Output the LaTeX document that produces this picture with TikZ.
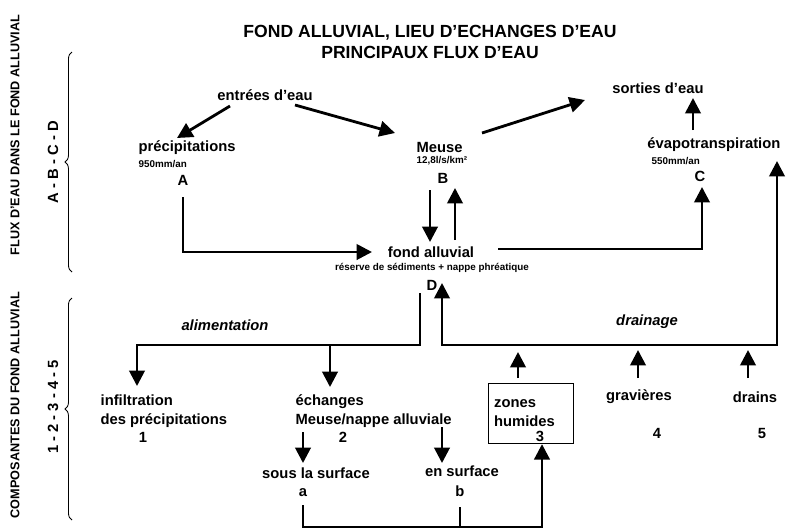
\documentclass[tikz,border=0pt]{standalone}
\usepackage{fontspec}
\setmainfont{Liberation Sans}
\usetikzlibrary{arrows.meta, decorations.pathreplacing}

\begin{document}
\begin{tikzpicture}[x=0.025cm, y=-0.025cm,
        ttl/.style={font=\bfseries\fontsize{12.5}{15}\selectfont, inner sep=1pt},
        txt/.style={font=\bfseries\fontsize{10.5}{13.5}\selectfont, inner sep=1pt},
        small/.style={font=\bfseries\fontsize{7}{8}\selectfont, inner sep=1pt},
        side/.style={font=\bfseries\fontsize{9}{11}\selectfont, inner sep=1pt, rotate=90},
        flow/.style={line width=2pt, -{Triangle[length=11pt,width=11pt]}},
        both/.style={line width=2pt, {Triangle[length=11pt,width=11pt]}-{Triangle[length=11pt,width=11pt]}},
        pipe/.style={line width=2pt},
        brc/.style={decorate, decoration={brace, amplitude=5pt}, line width=0.6pt}]
        \useasboundingbox (0,0) rectangle (788,529);

        \coordinate (e1) at (230,106);
        \coordinate (p1) at (177,138);
        \coordinate (e2) at (295,105);
        \coordinate (m1) at (395,133);
        \coordinate (m2) at (482,133);
        \coordinate (s1) at (585,100);
        \coordinate (v1) at (693,130);
        \coordinate (s2) at (693,98);
        \coordinate (a1) at (183,197);
        \coordinate (f1) at (372,252);
        \coordinate (b1) at (430,190);
        \coordinate (f2) at (430,242);
        \coordinate (f3) at (455,240);
        \coordinate (b2) at (455,188);
        \coordinate (f4) at (498,249);
        \coordinate (c1) at (702,187);
        \coordinate (d1) at (420,293);
        \coordinate (k1) at (137,345);
        \coordinate (i1) at (137,386);
        \coordinate (k2) at (330,345);
        \coordinate (x1) at (330,387);
        \coordinate (d2) at (442,283);
        \coordinate (q1) at (777,345);
        \coordinate (v2) at (777,161);
        \coordinate (z1) at (518,378);
        \coordinate (z2) at (518,352);
        \coordinate (g1) at (638,378);
        \coordinate (g2) at (638,350);
        \coordinate (r1) at (748,378);
        \coordinate (r2) at (748,350);
        \coordinate (h1) at (303,432);
        \coordinate (h2) at (303,463);
        \coordinate (n1) at (442,427);
        \coordinate (n2) at (442,463);
        \coordinate (a2) at (303,505);
        \coordinate (b3) at (460,507);
        \coordinate (w1) at (460,527);
        \coordinate (w2) at (542,527);

        \node[ttl] (T1) at (430,33) {FOND ALLUVIAL, LIEU D'ECHANGES D'EAU};
        \node[ttl] (T2) at (430,52) {PRINCIPAUX FLUX D'EAU};

        \node[side] (L1) at (15,135) {FLUX D'EAU DANS LE FOND ALLUVIAL};
        \node[side, font=\bfseries\fontsize{10.5}{12}\selectfont] (L2) at (53,162) {A - B - C - D};
        \node[side] (L3) at (15,405) {COMPOSANTES DU FOND ALLUVIAL};
        \node[side, font=\bfseries\fontsize{10.5}{12}\selectfont] (L4) at (53,407) {1 - 2 - 3 - 4 - 5};
        \draw[brc] (72,272) -- (72,52);
        \draw[brc] (72,520) -- (72,298);

        \node[txt] (E) at (265,95) {entrées d'eau};
        \node[txt, anchor=west] (P) at (137,148) {précipitations};
        \node[small, anchor=west] (Pq) at (137,164) {950mm/an};
        \node[txt] (A) at (183,180) {A};
        \node[txt, anchor=west] (M) at (415,147) {Meuse};
        \node[small, anchor=west] (Mq) at (415,161) {12,8l/s/km²};
        \node[txt] (B) at (443,178) {B};
        \node[txt] (S) at (658,88) {sorties d'eau};
        \node[txt, anchor=east] (V) at (782,145) {évapotranspiration};
        \node[small, anchor=west] (Vq) at (650,161) {550mm/an};
        \node[txt] (C) at (700,176) {C};
        \node[txt] (F) at (431,252) {fond alluvial};
        \node[small] (Fq) at (432,268) {réserve de sédiments + nappe phréatique};
        \node[txt] (D) at (432,285) {D};

        \node[txt, font=\bfseries\itshape\fontsize{10.5}{13.5}\selectfont] (Al) at (225,325) {alimentation};
        \node[txt, font=\bfseries\itshape\fontsize{10.5}{13.5}\selectfont] (Dr) at (647,322) {drainage};
        \node[txt, anchor=north west, align=left] (I) at (99,393) {infiltration\\des précipitations};
        \node[txt] (N1) at (143,437) {1};
        \node[txt, anchor=north west, align=left] (X) at (294,393) {échanges\\Meuse/nappe alluviale};
        \node[txt] (N2) at (343,437) {2};
        \node[txt] (Sa) at (316,473) {sous la surface};
        \node[txt] (Na) at (303,493) {a};
        \node[txt] (Sb) at (462,471) {en surface};
        \node[txt] (Nb) at (460,491) {b};
        \node[txt, draw, line width=0.8pt, anchor=north west, align=left, text width=1.85cm,
              minimum height=1.5cm, inner sep=4pt] (Z) at (488,383) {zones\\humides};
        \node[txt] (N3) at (540,436) {3};
        \node[txt] (G) at (639,397) {gravières};
        \node[txt] (N4) at (657,433) {4};
        \node[txt] (R) at (755,397) {drains};
        \node[txt] (N5) at (762,433) {5};

        \draw[flow] (e1) -- (p1);
        \draw[flow] (e2) -- (m1);
        \draw[flow] (m2) -- (s1);
        \draw[flow] (v1) -- (s2);
        \draw[flow] (a1) |- (f1);
        \draw[flow] (b1) -- (f2);
        \draw[flow] (f3) -- (b2);
        \draw[flow] (f4) -| (c1);
        \draw[flow] (d1) |- (k1) -- (i1);
        \draw[flow] (k2) -- (x1);
        \draw[both] (d2) |- (q1) -- (v2);
        \draw[flow] (z1) -- (z2);
        \draw[flow] (g1) -- (g2);
        \draw[flow] (r1) -- (r2);
        \draw[flow] (h1) -- (h2);
        \draw[flow] (n1) -- (n2);
        \draw[pipe] (b3) -- (w1);
        \draw[flow] (a2) |- (w2) -- (Z.south -| w2);

    \end{tikzpicture}
\end{document}
